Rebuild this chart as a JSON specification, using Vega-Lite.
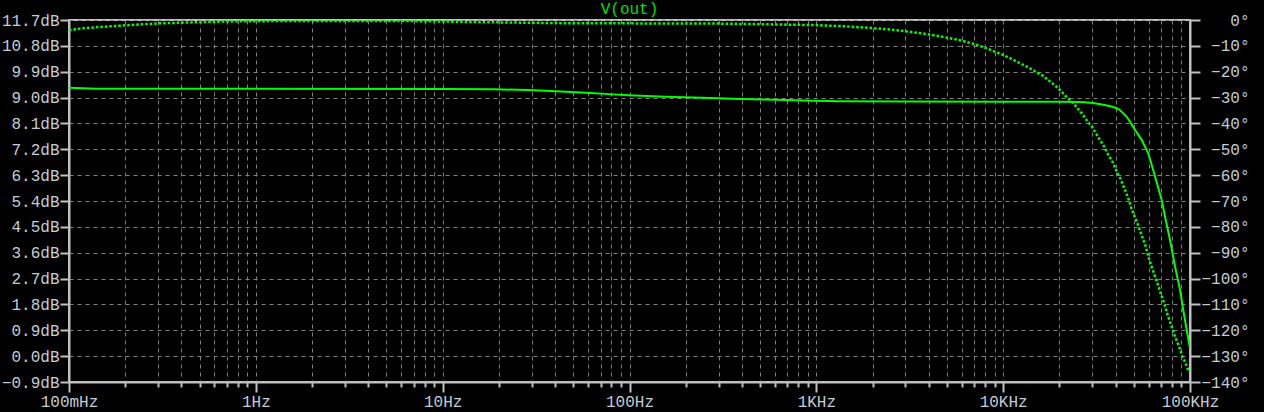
{
  "$schema": "https://vega.github.io/schema/vega-lite/v6.json",
  "autosize": "none",
  "width": 1121,
  "height": 362,
  "padding": {"left": 69, "top": 20, "right": 74, "bottom": 30},
  "background": "#000000",
  "config": {
    "view": {"stroke": "#c0c0c0", "strokeWidth": 2},
    "axis": {"labelFont": "Liberation Mono", "labelFontSize": 16, "labelColor": "#c4ccd4", "domainColor": "#c0c0c0", "domainWidth": 2, "tickColor": "#c0c0c0", "tickWidth": 2, "gridColor": "#808080", "gridWidth": 1, "gridDash": [4, 4], "labelOverlap": false, "labelBound": false}
  },
  "title": {"text": "V(out)", "color": "#00e000", "font": "Liberation Mono", "fontSize": 16, "fontWeight": "normal", "offset": -7, "dy": 14, "baseline": "bottom"},
  "datasets": {
    "mag": [
      {"f": 0.1, "db": 9.34}, {"f": 0.14, "db": 9.31}, {"f": 1, "db": 9.31}, {"f": 10, "db": 9.3},
      {"f": 18.8, "db": 9.29}, {"f": 28.6, "db": 9.26}, {"f": 38, "db": 9.23}, {"f": 48.6, "db": 9.19},
      {"f": 62, "db": 9.16}, {"f": 77.7, "db": 9.12}, {"f": 98.6, "db": 9.08}, {"f": 156, "db": 9.03},
      {"f": 247, "db": 8.99}, {"f": 395, "db": 8.95}, {"f": 608, "db": 8.92}, {"f": 972, "db": 8.89},
      {"f": 1340, "db": 8.87}, {"f": 3000, "db": 8.86}, {"f": 10000, "db": 8.855}, {"f": 20000, "db": 8.855},
      {"f": 26000, "db": 8.85}, {"f": 30300, "db": 8.81}, {"f": 34400, "db": 8.75}, {"f": 38000, "db": 8.69}, {"f": 40600, "db": 8.63},
      {"f": 42200, "db": 8.56}, {"f": 45900, "db": 8.33}, {"f": 48900, "db": 8.05}, {"f": 52000, "db": 7.77},
      {"f": 55200, "db": 7.52}, {"f": 59800, "db": 7.06}, {"f": 65000, "db": 6.25}, {"f": 70600, "db": 5.43},
      {"f": 73500, "db": 4.85}, {"f": 78200, "db": 4.04}, {"f": 83200, "db": 3.11}, {"f": 88500, "db": 2.3},
      {"f": 91400, "db": 1.72}, {"f": 95300, "db": 1.03}, {"f": 100000, "db": 0.27}
    ],
    "phase": [
      {"f": 0.1, "deg": -3.9}, {"f": 0.119, "deg": -3.2}, {"f": 0.153, "deg": -2.6}, {"f": 0.1875, "deg": -2.2},
      {"f": 0.24, "deg": -1.7}, {"f": 0.307, "deg": -1.3}, {"f": 0.461, "deg": -0.9}, {"f": 0.698, "deg": -0.55},
      {"f": 1.05, "deg": -0.45}, {"f": 2, "deg": -0.35}, {"f": 4, "deg": -0.35}, {"f": 8, "deg": -0.45},
      {"f": 15, "deg": -0.8}, {"f": 25, "deg": -1.0}, {"f": 40, "deg": -1.2}, {"f": 100, "deg": -1.3},
      {"f": 300, "deg": -1.4}, {"f": 500, "deg": -1.6}, {"f": 1000, "deg": -2.0}, {"f": 1300, "deg": -2.3},
      {"f": 1824, "deg": -2.9}, {"f": 2420, "deg": -3.6}, {"f": 3020, "deg": -4.4}, {"f": 3720, "deg": -5.2},
      {"f": 4590, "deg": -6.3}, {"f": 5660, "deg": -7.6}, {"f": 6074, "deg": -8.1}, {"f": 7069, "deg": -9.4},
      {"f": 7927, "deg": -10.6}, {"f": 8793, "deg": -11.9}, {"f": 9822, "deg": -13.3}, {"f": 10786, "deg": -14.6},
      {"f": 12050, "deg": -16.4}, {"f": 13366, "deg": -18.0}, {"f": 14938, "deg": -20.0}, {"f": 16403, "deg": -21.7},
      {"f": 17968, "deg": -24.0}, {"f": 19738, "deg": -26.4}, {"f": 21513, "deg": -29.3}, {"f": 23749, "deg": -32.2},
      {"f": 26104, "deg": -35.7}, {"f": 28568, "deg": -39.6}, {"f": 30010, "deg": -41.5}, {"f": 32711, "deg": -46.0},
      {"f": 34365, "deg": -48.3}, {"f": 36541, "deg": -52.2}, {"f": 38582, "deg": -55.0}, {"f": 40532, "deg": -58.7},
      {"f": 42582, "deg": -61.6}, {"f": 44518, "deg": -65.1}, {"f": 46770, "deg": -69.0}, {"f": 48348, "deg": -72.4},
      {"f": 49744, "deg": -74.8}, {"f": 52262, "deg": -78.6}, {"f": 54903, "deg": -82.9}, {"f": 57677, "deg": -87.1},
      {"f": 59843, "deg": -91.5}, {"f": 62869, "deg": -96.3}, {"f": 66048, "deg": -100.6}, {"f": 69386, "deg": -105.3},
      {"f": 72893, "deg": -109.8}, {"f": 75967, "deg": -114.1}, {"f": 79433, "deg": -118.3}, {"f": 83448, "deg": -122.7},
      {"f": 87667, "deg": -126.6}, {"f": 90644, "deg": -129.9}, {"f": 93702, "deg": -132.0}, {"f": 96040, "deg": -133.8},
      {"f": 97949, "deg": -135.4}, {"f": 100000, "deg": -136.3}
    ]
  },
  "layer": [
    {
      "data": {"name": "mag"},
      "mark": {"type": "line", "color": "#00ff00", "strokeWidth": 2, "clip": true},
      "encoding": {
        "x": {
          "field": "f", "type": "quantitative",
          "scale": {"type": "log", "domain": [0.1, 100000], "nice": false},
          "axis": {
            "title": null,
            "values": [0.1,0.2,0.3,0.4,0.5,0.6,0.7,0.8,0.9,1,2,3,4,5,6,7,8,9,10,20,30,40,50,60,70,80,90,100,200,300,400,500,600,700,800,900,1000,2000,3000,4000,5000,6000,7000,8000,9000,10000,20000,30000,40000,50000,60000,70000,80000,90000,100000],
            "labelExpr": "datum.value == 0.1 ? '100mHz' : datum.value == 1 ? '1Hz' : datum.value == 10 ? '10Hz' : datum.value == 100 ? '100Hz' : datum.value == 1000 ? '1KHz' : datum.value == 10000 ? '10KHz' : datum.value == 100000 ? '100KHz' : ''",
            "labelFlush": false,
            "tickSize": {"condition": {"test": "abs(log(datum.value)/LN10 - round(log(datum.value)/LN10)) < 0.001", "value": 10}, "value": 5},
            "labelPadding": 1
          }
        },
        "y": {
          "field": "db", "type": "quantitative",
          "scale": {"domain": [-0.9, 11.7], "nice": false, "zero": false},
          "axis": {
            "title": null,
            "values": [-0.9, 0, 0.9, 1.8, 2.7, 3.6, 4.5, 5.4, 6.3, 7.2, 8.1, 9.0, 9.9, 10.8, 11.7],
            "labelExpr": "format(datum.value, '.1f') + 'dB'",
            "tickSize": 9,
            "labelPadding": 1,
            "labelFlush": false
          }
        }
      }
    },
    {
      "data": {"name": "phase"},
      "mark": {"type": "line", "color": "#00ff00", "strokeWidth": 2.5, "strokeDash": [2.5, 2], "clip": true},
      "encoding": {
        "x": {"field": "f", "type": "quantitative", "scale": {"type": "log", "domain": [0.1, 100000], "nice": false}},
        "y": {
          "field": "deg", "type": "quantitative",
          "scale": {"domain": [-140, 0], "nice": false, "zero": false},
          "axis": {
            "orient": "right",
            "title": null,
            "grid": false,
            "values": [0, -10, -20, -30, -40, -50, -60, -70, -80, -90, -100, -110, -120, -130, -140],
            "labelExpr": "format(datum.value, 'd') + '°'",
            "tickSize": 10,
            "labelAlign": "right",
            "labelPadding": 49,
            "labelFlush": false
          }
        }
      }
    }
  ],
  "resolve": {"scale": {"y": "independent"}}
}
